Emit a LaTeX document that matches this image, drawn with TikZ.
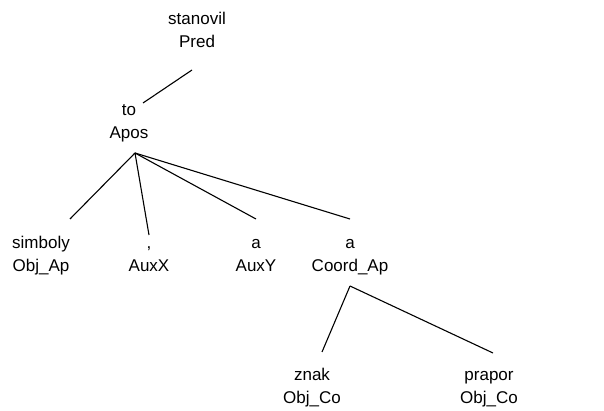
\documentclass[tikz,border=0pt]{standalone}
\usepackage{fontspec}
\setmainfont{Liberation Sans}
\usepackage{tikz}
\def\wordnode{\node[align=center,anchor=base,inner sep=0pt,font=\fontsize{17}{23}\selectfont]}
\def\drawedge{\draw[line width=1.1pt]}

\begin{document}
\begin{tikzpicture}[x=1pt,y=-1pt]
\useasboundingbox (0,0) rectangle (604,411);
\wordnode (pred) at (197,48) {stanovil\\Pred};
\wordnode (apos) at (129,139) {to\\Apos};
\wordnode (simboly) at (41,272) {simboly\\Obj\_Ap};
\wordnode (carka) at (149,272) {,\\AuxX};
\wordnode (auxy) at (256,272) {a\\AuxY};
\wordnode (coord) at (350,272) {a\\Coord\_Ap};
\wordnode (znak) at (312,403) {znak\\Obj\_Co};
\wordnode (prapor) at (489,403) {prapor\\Obj\_Co};
\coordinate (pred_b) at (192,70);
\coordinate (apos_t) at (143,103);
\coordinate (apos_b) at (135,153);
\coordinate (simboly_t) at (70,219);
\coordinate (carka_t) at (149,235);
\coordinate (auxy_t) at (256,219);
\coordinate (coord_t) at (350,219);
\coordinate (coord_b) at (350,286);
\coordinate (znak_t) at (322,352);
\coordinate (prapor_t) at (493,353);
\drawedge (pred_b) -- (apos_t);
\drawedge (apos_b) -- (simboly_t);
\drawedge (apos_b) -- (carka_t);
\drawedge (apos_b) -- (auxy_t);
\drawedge (apos_b) -- (coord_t);
\drawedge (coord_b) -- (znak_t);
\drawedge (coord_b) -- (prapor_t);
\end{tikzpicture}
\end{document}
